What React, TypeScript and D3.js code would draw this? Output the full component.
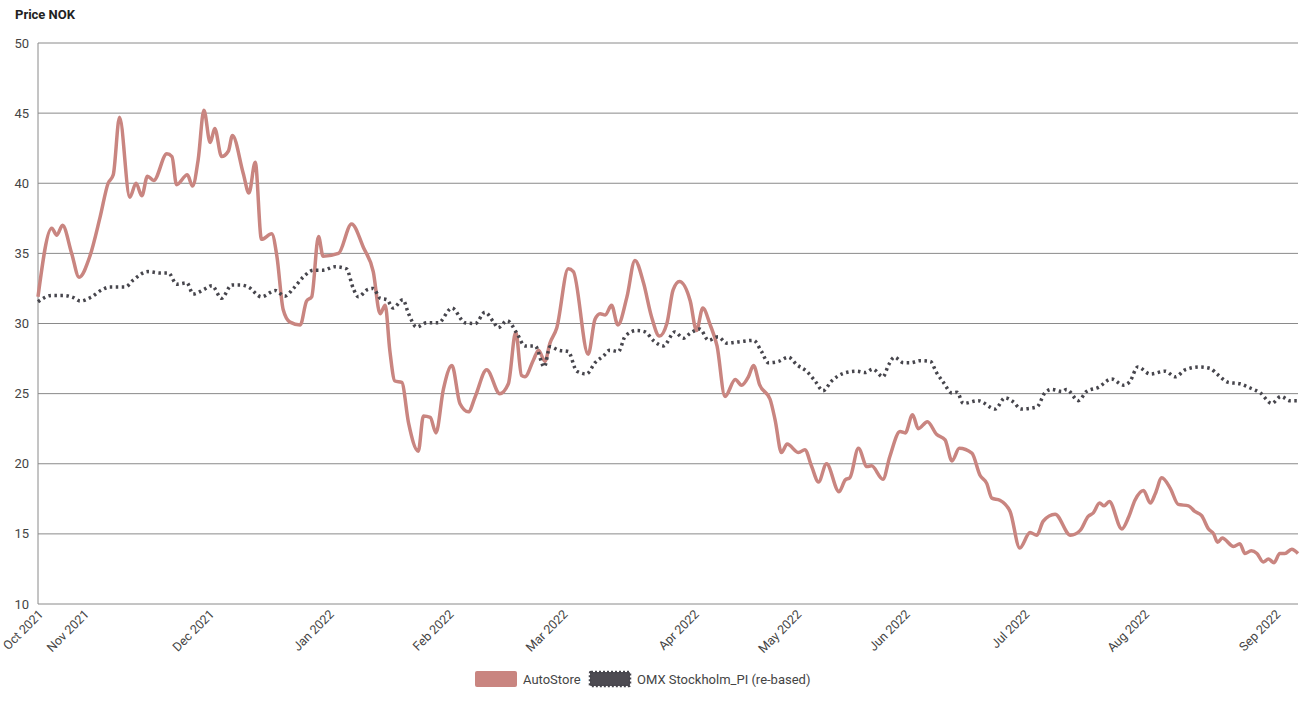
import React from "react";
import * as d3 from "d3";

// Trading-day index (0 = first trading day, Oct 2021) and month tick labels
const monthTicks: number[] = [0, 8, 30, 51, 72, 92, 115, 133, 152, 173, 194, 217];
const monthLabels: string[] = [
  "Oct 2021", "Nov 2021", "Dec 2021", "Jan 2022", "Feb 2022", "Mar 2022",
  "Apr 2022", "May 2022", "Jun 2022", "Jul 2022", "Aug 2022", "Sep 2022",
];
const lastDay = 221;
const yTicks: number[] = [10, 15, 20, 25, 30, 35, 40, 45, 50];

// AutoStore price (NOK), [trading day, value]
const autoStore: [number, number][] = [
  [0, 31.9], [2.4, 36.8], [3.3, 36.3], [4.3, 37.0], [5.9, 35.0], [7.2, 33.3], [9.1, 34.8],
  [10.9, 37.6], [12.3, 40.0], [13.2, 40.6], [14.3, 44.7], [16.1, 39.0], [17.2, 40.0],
  [18.2, 39.1], [19.2, 40.5], [20.3, 40.2], [22.6, 42.1], [23.5, 41.9], [24.3, 39.9],
  [26.2, 40.6], [27.1, 39.8], [28.1, 41.7], [29.1, 45.2], [30.2, 42.9], [31.0, 43.9],
  [32.2, 41.9], [33.4, 42.3], [34.1, 43.4], [36.0, 40.7], [37.0, 39.3], [38.1, 41.5],
  [39.2, 36.0], [41.0, 36.4], [41.9, 34.8], [43.0, 31.0], [44.2, 30.1], [46.0, 29.9],
  [47.1, 31.6], [48.0, 31.9], [49.2, 36.2], [50.0, 34.8], [52.7, 35.0], [55.0, 37.1],
  [57.1, 35.4], [58.8, 33.7], [60.0, 30.7], [60.9, 31.3], [61.7, 28.1], [62.6, 25.9],
  [63.8, 25.8], [65.0, 22.9], [66.7, 20.9], [67.6, 23.4], [68.8, 23.3], [69.8, 22.2],
  [71.1, 25.3], [72.6, 27.0], [74.0, 24.3], [75.5, 23.7], [76.7, 24.8], [78.7, 26.7],
  [81.0, 25.0], [82.5, 25.7], [83.8, 29.4], [84.8, 26.3], [85.4, 26.2], [86.9, 27.4],
  [87.8, 28.1], [88.9, 27.3], [89.8, 28.6], [91.0, 29.7], [93.0, 33.9], [93.9, 33.7],
  [96.5, 27.8], [97.7, 30.3], [98.6, 30.7], [99.5, 30.6], [100.6, 31.3], [101.7, 29.9],
  [103.3, 31.9], [104.7, 34.5], [106.2, 32.9], [107.6, 30.5], [109.0, 29.1], [110.3, 30.0],
  [111.4, 32.4], [112.5, 33.0], [114.4, 31.6], [115.5, 29.5], [116.6, 31.1], [117.9, 29.9],
  [119.1, 28.4], [120.5, 24.8], [122.3, 26.0], [123.4, 25.6], [124.6, 26.2], [125.5, 27.0],
  [126.6, 25.6], [128.4, 24.6], [129.3, 23.1], [130.4, 20.8], [131.4, 21.4], [133.4, 20.8],
  [134.5, 21.0], [135.7, 19.8], [136.9, 18.7], [138.3, 20.0], [140.5, 18.0], [141.6, 18.85],
  [142.4, 19.0], [143.9, 21.1], [145.4, 19.8], [146.2, 19.85], [148.2, 18.9], [149.4, 20.5],
  [151.2, 22.3], [152.1, 22.2], [153.4, 23.5], [154.4, 22.5], [156.0, 23.0], [157.6, 22.1],
  [159.1, 21.7], [160.3, 20.2], [161.6, 21.1], [163.8, 20.75], [165.2, 19.2], [166.4, 18.6],
  [167.3, 17.55], [168.7, 17.4], [170.5, 16.6], [172.2, 14.0], [174.0, 15.1], [175.2, 14.9],
  [176.3, 15.9], [178.4, 16.4], [181.1, 14.9], [182.8, 15.25], [184.2, 16.25], [185.1, 16.5],
  [186.2, 17.2], [187.0, 17.0], [187.9, 17.3], [190.1, 15.35], [191.3, 16.2], [192.4, 17.4],
  [193.9, 18.1], [195.1, 17.2], [196.0, 17.9], [197.1, 19.0], [198.6, 18.25], [200.0, 17.1],
  [201.8, 17.0], [202.9, 16.6], [204.1, 16.3], [205.3, 15.35], [206.2, 15.0], [206.9, 14.4],
  [207.7, 14.7], [209.7, 14.1], [210.8, 14.3], [211.7, 13.6], [212.8, 13.8], [213.8, 13.6],
  [214.9, 13.0], [215.8, 13.2], [216.8, 12.95], [217.8, 13.6], [218.7, 13.6], [219.9, 13.9],
  [221.0, 13.6],
];

// OMX Stockholm_PI (re-based), [trading day, value]
const omx: [number, number][] = [
  [0, 31.55], [2.4, 32.0], [4.4, 32.0], [6.2, 31.85], [7.4, 31.6], [9.4, 31.9], [11.2, 32.4],
  [12.6, 32.6], [15.3, 32.6], [16.7, 33.1], [19.3, 33.7], [21.4, 33.6], [22.9, 33.6],
  [24.3, 32.8], [26.1, 32.9], [27.2, 32.1], [29.0, 32.4], [30.5, 32.7], [32.2, 31.8],
  [34.0, 32.75], [35.4, 32.75], [36.9, 32.6], [39.2, 31.9], [41.6, 32.35], [43.3, 31.95],
  [44.8, 32.5], [46.5, 33.3], [48.3, 33.8], [50.0, 33.8], [52.1, 34.05], [54.1, 33.9],
  [55.3, 32.5], [56.2, 31.9], [57.7, 32.4], [58.8, 32.5], [60.0, 31.8], [61.2, 31.7],
  [62.3, 31.1], [64.0, 31.7], [65.0, 30.7], [66.4, 29.75], [68.2, 30.05], [70.2, 30.05],
  [72.6, 31.1], [74.9, 30.05], [76.7, 30.0], [78.4, 30.8], [79.9, 30.1], [80.7, 29.7],
  [82.3, 30.2], [84.0, 29.3], [85.4, 28.4], [87.2, 28.4], [88.8, 26.9], [89.8, 28.35],
  [91.3, 28.1], [93.0, 28.0], [94.5, 26.6], [96.2, 26.4], [97.7, 27.2], [99.2, 27.7],
  [100.3, 28.1], [101.8, 28.0], [103.0, 29.1], [105.0, 29.5], [106.5, 29.4], [107.9, 28.8],
  [109.7, 28.4], [111.7, 29.4], [113.2, 28.95], [114.4, 29.3], [116.1, 29.6], [117.6, 28.8],
  [119.3, 29.05], [120.8, 28.6], [123.1, 28.7], [125.5, 28.8], [126.9, 28.0], [128.1, 27.2],
  [129.9, 27.3], [131.6, 27.6], [133.1, 27.05], [134.8, 26.6], [136.3, 25.9], [137.7, 25.2],
  [139.2, 25.9], [141.3, 26.45], [143.6, 26.6], [145.1, 26.5], [146.4, 26.75], [148.2, 26.2],
  [149.2, 27.05], [150.2, 27.6], [151.8, 27.2], [153.0, 27.2], [154.7, 27.35], [156.5, 27.3],
  [157.6, 26.5], [158.8, 25.8], [160.3, 25.05], [161.2, 25.1], [162.3, 24.3], [164.9, 24.5],
  [167.9, 23.9], [169.6, 24.7], [171.1, 24.4], [172.4, 23.9], [175.2, 24.05], [176.6, 25.05],
  [177.8, 25.3], [179.6, 25.15], [180.4, 25.3], [182.5, 24.5], [183.9, 25.15], [186.0, 25.45],
  [188.3, 26.05], [190.4, 25.6], [191.5, 25.85], [192.9, 26.9], [195.1, 26.4], [197.7, 26.6],
  [199.5, 26.2], [201.2, 26.7], [203.8, 26.9], [205.6, 26.8], [206.8, 26.4], [208.8, 25.8],
  [210.8, 25.7], [212.6, 25.4], [214.4, 25.05], [216.4, 24.3], [218.0, 24.8], [219.6, 24.5],
  [221.0, 24.5],
];

const W = 1314;
const H = 705;
const left = 38;
const right = 1298;
const top = 43;
const bottom = 604;
const FONT = "Roboto, 'Noto Sans', sans-serif";

export default function App() {
  const x = d3.scaleLinear().domain([0, lastDay]).range([left, right]);
  const y = d3.scaleLinear().domain([10, 50]).range([bottom, top]);
  const line = d3
    .line<[number, number]>()
    .x((d) => x(d[0]))
    .y((d) => y(d[1]))
    .curve(d3.curveMonotoneX);

  return (
    <svg
      width={W}
      height={H}
      style={{ position: "absolute", left: 0, top: 0, background: "#fff" }}
      fontFamily={FONT}
    >
      <text x={15} y={19} fontSize={13} fontWeight="bold" fill="#222">
        Price NOK
      </text>
      {yTicks.map((t) => (
        <g key={t}>
          {t !== 10 && (
            <line x1={left} x2={right} y1={y(t)} y2={y(t)} stroke="#8a8a8a" strokeWidth={1} />
          )}
          <text x={29} y={y(t) + 4.5} fontSize={13} fill="#444" textAnchor="end">
            {t}
          </text>
        </g>
      ))}
      <line x1={left} x2={left} y1={top} y2={bottom} stroke="#8a8a8a" strokeWidth={1} />
      <line x1={left} x2={right} y1={bottom} y2={bottom} stroke="#8a8a8a" strokeWidth={1} />
      {monthTicks.map((t, i) => (
        <text
          key={t}
          transform={`translate(${x(t) + 6},${bottom + 11}) rotate(-45)`}
          fontSize={12.5}
          fill="#444"
          textAnchor="end"
        >
          {monthLabels[i]}
        </text>
      ))}
      <path d={line(autoStore) || ""} fill="none" stroke="#c98580" strokeWidth={3.5} strokeLinejoin="round" />
      <path
        d={line(omx) || ""}
        fill="none"
        stroke="#46454c"
        strokeWidth={3.5}
        strokeDasharray="2.5 3.5"
      />
      <g>
        <rect x={475} y={671} width={42} height={16} rx={2} fill="#c98580" />
        <text x={523} y={684} fontSize={13} fill="#444">AutoStore</text>
        <rect
          x={590}
          y={672}
          width={40}
          height={14}
          rx={1}
          fill="#4d4b52"
          stroke="#46454c"
          strokeWidth={2.5}
          strokeDasharray="2 2"
        />
        <text x={637} y={684} fontSize={13} fill="#444">OMX Stockholm_PI (re-based)</text>
      </g>
    </svg>
  );
}
